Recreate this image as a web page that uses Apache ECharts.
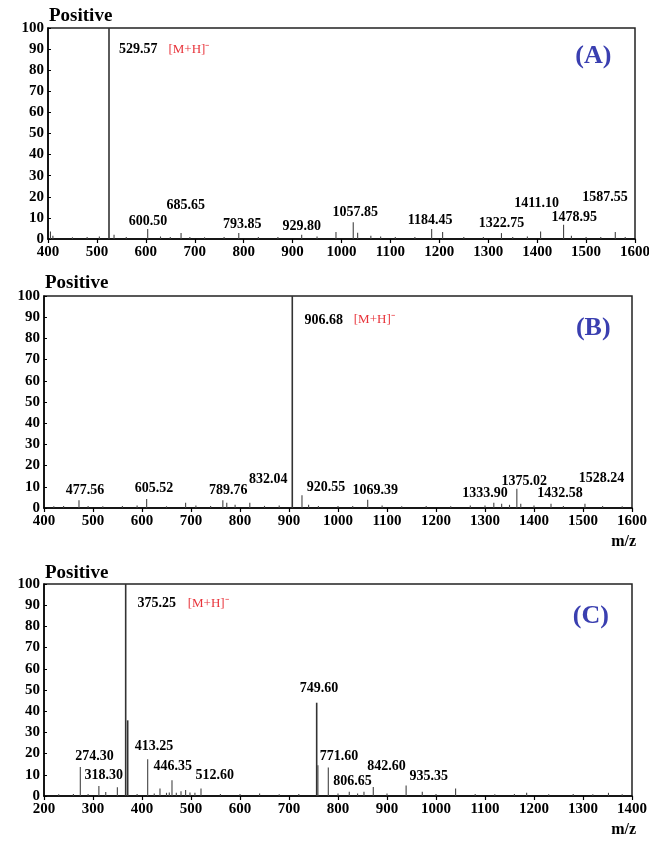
<!DOCTYPE html>
<html><head><meta charset="utf-8">
<script src="https://cdn.jsdelivr.net/npm/echarts@6/dist/echarts.min.js"></script>
<style>html,body{margin:0;padding:0;background:#fff}#c{width:649px;height:841px}</style>
</head><body><div id="c"></div>
<script>
// ---------- Panel A ----------
const A_mz  = [405, 410, 450, 480, 505, 524.7, 535, 560, 603.8, 630, 650, 672, 690, 720, 760, 790, 830, 870, 918.6, 950, 988.7, 1024, 1033, 1060, 1080, 1110, 1150, 1184.3, 1206.7, 1250, 1290, 1327, 1350, 1380, 1407, 1454, 1470, 1500, 1530, 1559.7, 1580];
const A_int = [3.6, 1.5, 0.8, 1.0, 1.2, 100, 2.0, 1.0, 4.7, 1.2, 1.0, 2.8, 1.0, 0.8, 1.0, 2.8, 1.0, 1.0, 2.0, 1.2, 3.3, 7.9, 3.0, 1.5, 1.2, 1.0, 1.0, 4.7, 3.3, 1.0, 1.0, 2.8, 1.0, 1.2, 3.6, 6.8, 1.5, 1.0, 1.0, 3.3, 1.0];
const A_labels   = ['529.57', '600.50', '685.65', '793.85', '929.80', '1057.85', '1184.45', '1322.75', '1411.10', '1478.95', '1587.55'];
const A_labelMz  = [584.6, 604.4, 681.4, 797, 918.6, 1028, 1181, 1327, 1399, 1476, 1538.6];
const A_labelInt = [89.9, 8.2, 15.8, 7.1, 5.8, 12.5, 8.7, 7.4, 16.9, 10.1, 19.8];

// ---------- Panel B ----------
const B_mz  = [420, 440, 471.4, 490, 520, 560, 590, 609.5, 650, 689, 710, 740, 765, 773, 790, 820, 850, 880, 906.7, 926.5, 940, 960, 1000, 1030, 1060.6, 1090, 1130, 1180, 1230, 1270, 1300, 1318, 1334, 1350, 1365, 1373, 1400, 1434.7, 1460, 1504, 1540, 1580];
const B_int = [0.8, 1.0, 3.6, 1.0, 0.8, 1.0, 1.2, 4.2, 0.8, 2.5, 1.2, 1.0, 3.6, 2.5, 1.5, 2.5, 1.0, 1.2, 100, 6.0, 1.5, 1.0, 1.0, 1.0, 3.9, 1.2, 0.8, 1.0, 0.8, 1.2, 1.2, 2.5, 2.0, 1.5, 9.1, 2.0, 1.2, 2.0, 1.0, 2.0, 1.0, 0.8];
const B_labels   = ['906.68', '477.56', '605.52', '789.76', '832.04', '920.55', '1069.39', '1333.90', '1375.02', '1432.58', '1528.24'];
const B_labelMz  = [971, 483.7, 624.5, 776, 857.8, 975.5, 1076, 1300, 1380, 1453, 1538];
const B_labelInt = [88.7, 8.2, 9.3, 8.2, 13.5, 9.8, 8.5, 6.9, 12.4, 6.9, 14.0];

// ---------- Panel C ----------
const C_mz  = [230, 260, 274.1, 290, 312, 326, 349.7, 366.7, 370.8, 390, 411.6, 425, 436.7, 450, 455.7, 461.2, 470, 479.6, 489, 497.9, 508, 520.4, 560, 600, 640, 680, 720, 756.5, 759, 780.2, 800, 823, 840, 853, 872, 900, 939, 972, 1000, 1040, 1080, 1120, 1160, 1185, 1230, 1280, 1320, 1352, 1380];
const C_int = [0.8, 1.0, 13.7, 1.0, 4.7, 1.9, 4.1, 100, 35.7, 1.0, 17.3, 1.2, 3.5, 1.5, 1.6, 7.4, 1.5, 2.2, 2.8, 1.6, 1.5, 3.5, 1.0, 1.0, 1.2, 0.8, 1.0, 44, 14.5, 13.4, 1.2, 2.0, 1.2, 2.0, 4.2, 1.2, 5.0, 2.0, 1.0, 3.5, 1.0, 0.8, 1.0, 1.5, 0.8, 1.0, 0.8, 1.5, 0.8];
const C_labels   = ['375.25', '274.30', '318.30', '413.25', '446.35', '512.60', '749.60', '771.60', '806.65', '842.60', '935.35'];
const C_labelMz  = [430, 303, 322, 424.5, 462.7, 548.6, 761, 802, 829.8, 899, 985];
const C_labelInt = [90.9, 18.5, 9.6, 23.3, 13.8, 9.6, 50.9, 18.5, 6.7, 13.8, 9.4];

// ---------- shared text ----------
const ionText     = '[M+H]\u207B';
const ionLabelMz  = [688, 1074, 535];
const ionLabelInt = [90, 88.7, 90.9];
const panelTags   = ['(A)', '(B)', '(C)'];
const panelTagMz  = [1515, 1521, 1316];
const panelTagInt = [86.4, 84.8, 84.6];
const xMins = [400, 400, 200];
const xMaxs = [1600, 1600, 1400];
const yTicks = [0, 100, 10];
const titleText = 'Positive';
const xName = 'm/z';

const FONT = '"Liberation Serif", "Times New Roman", serif';
const panels = [
  {mz: A_mz, it: A_int, lab: A_labels, lmz: A_labelMz, lit: A_labelInt},
  {mz: B_mz, it: B_int, lab: B_labels, lmz: B_labelMz, lit: B_labelInt},
  {mz: C_mz, it: C_int, lab: C_labels, lmz: C_labelMz, lit: C_labelInt}
];
const grids = [
  {left: 48, top: 28, width: 587, height: 211},
  {left: 44, top: 296, width: 588, height: 212},
  {left: 44, top: 584, width: 588, height: 212}
];
const titleTops = [7, 274, 564];

function textSeries(i, items, font, color) {
  return {
    type: 'custom', xAxisIndex: i, yAxisIndex: i, silent: true, z: 5,
    data: items,
    renderItem: (params, api) => {
      const pt = api.coord([api.value(0), api.value(1)]);
      const t = items[params.dataIndex][2];
      return {type: 'text', x: pt[0], y: pt[1],
        style: {text: t, font: font, fill: color, align: 'center', verticalAlign: 'middle'}};
    }
  };
}

const option = {
  animation: false,
  backgroundColor: '#fff',
  title: grids.map((g, i) => ({
    text: titleText, left: g.left + 1, top: titleTops[i], padding: 0,
    textStyle: {fontFamily: FONT, fontWeight: 'bold', fontSize: 19, color: '#000'}
  })),
  grid: grids.map(g => Object.assign({show: true, containLabel: false, outerBoundsMode: 'none', borderColor: '#222', borderWidth: 1.5, backgroundColor: 'transparent'}, g)),
  xAxis: grids.map((g, i) => ({
    type: 'value', gridIndex: i, min: xMins[i], max: xMaxs[i], interval: 100,
    name: i > 0 ? xName : '', nameLocation: 'end', nameGap: 4,
    nameTextStyle: {fontFamily: FONT, fontWeight: 'bold', fontSize: 16, color: '#000', align: 'right', verticalAlign: 'top', padding: [26, 0, 0, 0]},
    axisLine: {show: true, onZero: false, lineStyle: {color: '#000', width: 1.5}},
    axisTick: {show: true, inside: false, length: 4, lineStyle: {color: '#000', width: 1.2}},
    splitLine: {show: false},
    axisLabel: {fontFamily: FONT, fontWeight: 'bold', fontSize: 15, color: '#000', margin: 6, formatter: v => String(v)}
  })),
  yAxis: grids.map((g, i) => ({
    type: 'value', gridIndex: i, min: yTicks[0], max: yTicks[1], interval: yTicks[2],
    axisLine: {show: true, lineStyle: {color: '#000', width: 1.5}},
    axisTick: {show: true, inside: true, length: 3, lineStyle: {color: '#000'}},
    splitLine: {show: false},
    axisLabel: {fontFamily: FONT, fontWeight: 'bold', fontSize: 15, color: '#000', margin: 4}
  })),
  series: []
};

panels.forEach((p, i) => {
  option.series.push({
    type: 'custom', xAxisIndex: i, yAxisIndex: i, silent: true,
    data: p.mz.map((m, k) => [m, p.it[k]]),
    renderItem: (params, api) => {
      const top = api.coord([api.value(0), api.value(1)]);
      const bot = api.coord([api.value(0), 0]);
      const big = api.value(1) >= 30;
      return {type: 'line', shape: {x1: top[0], y1: top[1], x2: bot[0], y2: bot[1]},
        style: {stroke: big ? '#333' : '#444', lineWidth: big ? 1.6 : 1.1}};
    },
    z: 3
  });
  option.series.push(textSeries(i, p.lab.map((t, k) => [p.lmz[k], p.lit[k], t]),
    'bold 14px ' + FONT, '#000'));
  option.series.push(textSeries(i, [[ionLabelMz[i], ionLabelInt[i], ionText]],
    '13px ' + FONT, '#e8333a'));
  option.series.push(textSeries(i, [[panelTagMz[i], panelTagInt[i], panelTags[i]]],
    'bold 26px ' + FONT, '#3a3fb0'));
});

const chart = echarts.init(document.getElementById('c'), null, {renderer: 'canvas'});
chart.setOption(option);
</script></body></html>
